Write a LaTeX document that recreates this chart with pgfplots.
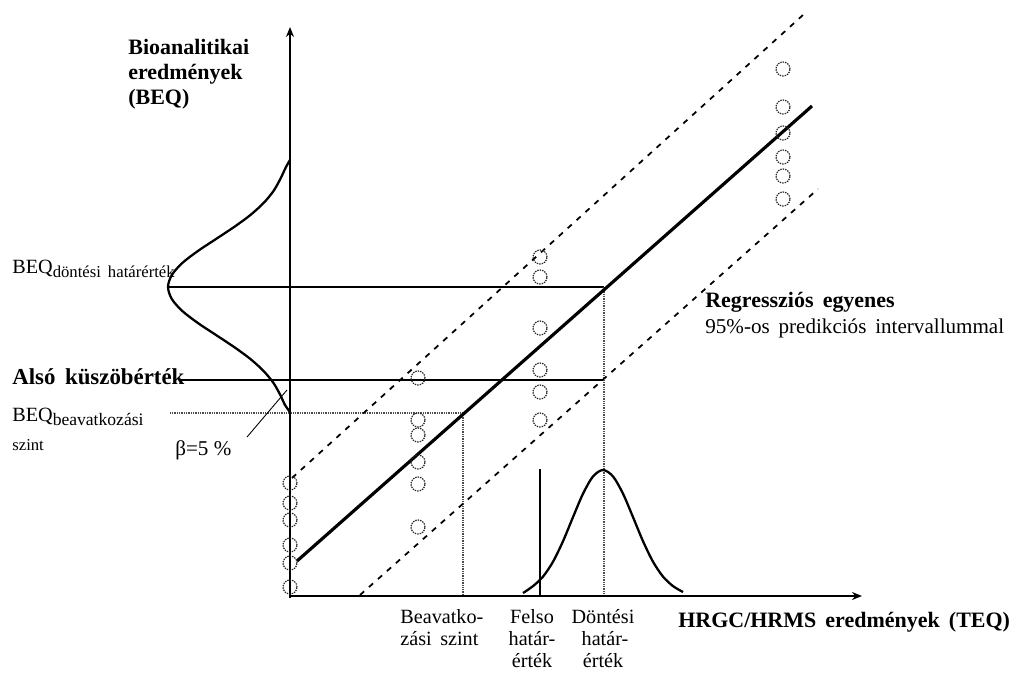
\documentclass[border=0pt]{standalone}
\usepackage{fontspec}
\setmainfont{Liberation Serif}
\usepackage{pgfplots}
\pgfplotsset{compat=1.18}
\usetikzlibrary{arrows.meta}
\newcommand{\ws}{\hspace{0.42em}}
\begin{document}
\begin{tikzpicture}
\begin{axis}[scale only axis, width=202.8mm, height=135.6mm,
  xmin=0, xmax=1014, ymin=0, ymax=678, y dir=reverse,
  hide axis, clip=false]
% reference lines
\addplot[black, line width=0.8pt] coordinates {(168,287) (604,287)};
\addplot[black, line width=0.8pt] coordinates {(180,380) (604,380)};
\addplot[black!70, line width=1.0pt, dash pattern=on 0.5pt off 0.5pt] coordinates {(170,413) (463,413)};
\addplot[black!70, line width=1.0pt, dash pattern=on 0.5pt off 0.5pt] coordinates {(463,413) (463,596)};
\addplot[black!70, line width=1.0pt, dash pattern=on 0.5pt off 0.5pt] coordinates {(604,287) (604,596)};
\addplot[black, line width=1.0pt] coordinates {(540,469) (540,596)};
% prediction band
\addplot[black, line width=1.0pt, dash pattern=on 1.1mm off 1.3mm] coordinates {(292,478) (803,15)};
\addplot[black, line width=1.0pt, dash pattern=on 1.1mm off 1.3mm] coordinates {(360,595) (818,189)};
% regression line
\addplot[black, line width=1.8pt] coordinates {(297,561) (812,106)};
% left gaussian
\addplot[black, line width=1.3pt, smooth] coordinates {
(290,160) (286,167) (280.3,179) (273.5,191) (263.6,203) (250.4,215) (234.1,227)
(216.0,239) (197.9,251) (182.3,263) (171.8,275) (168,287) (171.8,299) (182.3,311)
(197.9,323) (216.0,335) (234.1,347) (250.4,359) (263.6,371) (273.5,383) (280.3,395)
(285,405) (290,412)};
% right gaussian
\addplot[black, line width=1.3pt, smooth] coordinates {
(523,593) (533,586.1) (543,576.6) (553,561.7) (563,541.2) (573,517.1) (583,493.7)
(593,476.4) (603,470) (613,476.4) (623,493.7) (633,517.1) (643,541.2) (653,561.7)
(663,576.6) (673,586.1) (683,592)};
% axes
\addplot[black, line width=1.3pt, -{Stealth[length=2mm,width=1.6mm]}] coordinates {(290,598) (290,27)};
\addplot[black, line width=1.3pt, -{Stealth[length=2mm,width=1.6mm]}] coordinates {(289,596) (862,596)};
% beta pointer
\addplot[black, line width=0.5pt] coordinates {(247,437) (287,390)};
% data points
\addplot[only marks, mark=o, mark size=1.4mm, mark options={draw=black!85, line width=0.7pt, dash pattern=on 0.8pt off 0.6pt, fill=white}] coordinates {
(290,483) (290,503) (290,520) (290,545) (290,563) (290,587)
(418,378) (418,420) (418,435) (418,462) (418,484) (418,527)
(540,257) (540,277) (540,328) (540,370) (540,392) (540,420)
(783,69) (783,107) (783,133) (783,157) (783,176) (783,199)};
% texts
\node[anchor=base west, inner sep=0, font=\fontsize{12.5}{15}\selectfont\bfseries] at (axis cs:128,55) {Bioanalitikai};
\node[anchor=base west, inner sep=0, font=\fontsize{12.5}{15}\selectfont\bfseries] at (axis cs:128,80) {eredmények};
\node[anchor=base west, inner sep=0, font=\fontsize{12.5}{15}\selectfont\bfseries] at (axis cs:128,105) {(BEQ)};
\node[anchor=base west, inner sep=0, font=\fontsize{11.5}{14}\selectfont] at (axis cs:12,273) {BEQ\raisebox{-0.5ex}{\fontsize{9.5}{11}\selectfont döntési\ws határérték}};
\node[anchor=base west, inner sep=0, font=\fontsize{13}{15}\selectfont\bfseries] at (axis cs:12,384) {Alsó\ws küszöbérték};
\node[anchor=base west, inner sep=0, font=\fontsize{11.5}{14}\selectfont] at (axis cs:12,421) {BEQ\raisebox{-0.5ex}{\fontsize{10}{12}\selectfont beavatkozási}};
\node[anchor=base west, inner sep=0, font=\fontsize{9.5}{11}\selectfont] at (axis cs:12,450) {szint};
\node[anchor=base west, inner sep=0, font=\fontsize{12}{14}\selectfont] at (axis cs:175,455) {β=5 \%};
\node[anchor=base west, inner sep=0, font=\fontsize{12.5}{15}\selectfont\bfseries] at (axis cs:705,307) {Regressziós\ws egyenes};
\node[anchor=base west, inner sep=0, font=\fontsize{12}{14}\selectfont] at (axis cs:705,333) {95\%-os\ws predikciós\ws intervallummal};
\node[anchor=base west, inner sep=0, font=\fontsize{12.5}{15}\selectfont\bfseries] at (axis cs:678,627) {HRGC/HRMS\ws eredmények\ws (TEQ)};
\node[anchor=base west, inner sep=0, font=\fontsize{11.5}{14}\selectfont] at (axis cs:400,623) {Beavatko-};
\node[anchor=base west, inner sep=0, font=\fontsize{11.5}{14}\selectfont] at (axis cs:400,645) {zási\ws szint};
\node[anchor=base, inner sep=0, font=\fontsize{11.5}{14}\selectfont] at (axis cs:532,623) {Felso};
\node[anchor=base, inner sep=0, font=\fontsize{11.5}{14}\selectfont] at (axis cs:532,645) {határ-};
\node[anchor=base, inner sep=0, font=\fontsize{11.5}{14}\selectfont] at (axis cs:532,667) {érték};
\node[anchor=base, inner sep=0, font=\fontsize{11.5}{14}\selectfont] at (axis cs:603,623) {Döntési};
\node[anchor=base, inner sep=0, font=\fontsize{11.5}{14}\selectfont] at (axis cs:605,645) {határ-};
\node[anchor=base, inner sep=0, font=\fontsize{11.5}{14}\selectfont] at (axis cs:603,667) {érték};
\end{axis}
\path (current axis.south west) rectangle (current axis.north east);
\end{tikzpicture}
\end{document}
